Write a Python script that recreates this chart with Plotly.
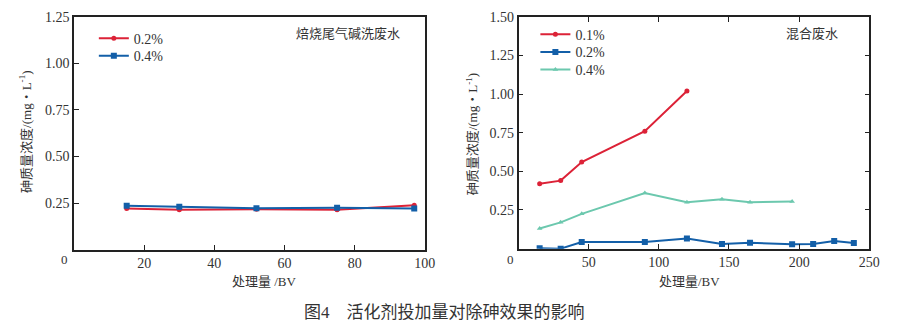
import plotly.graph_objects as go

# Left panel: 焙烧尾气碱洗废水
left_x_02 = [15, 30, 52, 75, 97]
left_y_02 = [0.221, 0.214, 0.217, 0.214, 0.238]
left_x_04 = [15, 30, 52, 75, 97]
left_y_04 = [0.235, 0.230, 0.222, 0.225, 0.221]

# Right panel: 混合废水
right_x_01 = [15, 30, 45, 90, 120]
right_y_01 = [0.42, 0.44, 0.56, 0.76, 1.02]
right_x_02 = [15, 30, 45, 90, 120, 145, 165, 195, 210, 225, 239]
right_y_02 = [0.003, 0.0, 0.043, 0.043, 0.066, 0.030, 0.038, 0.028, 0.030, 0.049, 0.036]
right_x_04 = [15, 30, 45, 90, 120, 145, 165, 195]
right_y_04 = [0.13, 0.17, 0.225, 0.36, 0.30, 0.32, 0.30, 0.305]

left_xticks = [20, 40, 60, 80, 100]
left_yticks = [0.25, 0.50, 0.75, 1.00, 1.25]
right_xticks = [50, 100, 150, 200, 250]
right_yticks = [0.25, 0.50, 0.75, 1.00, 1.25, 1.50]

RED = "#DC2237"
BLUE = "#135FA8"
TEAL = "#6CC8AE"
NUMFONT = "Liberation Serif"
FONT = "Liberation Serif, Noto Sans CJK SC"
W, H = 902, 322

def px(x):
    return x / W

def py(y):
    return 1 - y / H

fig = go.Figure()
fig.add_trace(go.Scatter(x=left_x_02, y=left_y_02, name="0.2%", mode="lines+markers",
                         line=dict(color=RED, width=2), marker=dict(symbol="circle", size=5, color=RED),
                         xaxis="x", yaxis="y", legend="legend"))
fig.add_trace(go.Scatter(x=left_x_04, y=left_y_04, name="0.4%", mode="lines+markers",
                         line=dict(color=BLUE, width=2), marker=dict(symbol="square", size=6, color=BLUE),
                         xaxis="x", yaxis="y", legend="legend2"))
fig.add_trace(go.Scatter(x=right_x_01, y=right_y_01, name="0.1%", mode="lines+markers",
                         line=dict(color=RED, width=2), marker=dict(symbol="circle", size=5, color=RED),
                         xaxis="x2", yaxis="y2", legend="legend3"))
fig.add_trace(go.Scatter(x=right_x_02, y=right_y_02, name="0.2%", mode="lines+markers",
                         line=dict(color=BLUE, width=2), marker=dict(symbol="square", size=6, color=BLUE),
                         xaxis="x2", yaxis="y2", legend="legend4"))
fig.add_trace(go.Scatter(x=right_x_04, y=right_y_04, name="0.4%", mode="lines+markers",
                         line=dict(color=TEAL, width=2), marker=dict(symbol="triangle-up", size=5, color=TEAL),
                         xaxis="x2", yaxis="y2", legend="legend5"))

axis_common = dict(showgrid=False, zeroline=False, showline=True, linecolor="#222", linewidth=1.5,
                   ticks="inside", ticklen=5, tickcolor="#222",
                   tickfont=dict(family=NUMFONT, size=14, color="#333"))

def leg(x, y):
    return dict(x=px(x), y=py(y), xanchor="left", yanchor="top", bgcolor="rgba(0,0,0,0)",
                font=dict(family=NUMFONT, size=14, color="#333"), itemwidth=30)

fig.update_layout(
    width=W, height=H, margin=dict(l=0, r=0, t=0, b=0),
    paper_bgcolor="white", plot_bgcolor="white", showlegend=True,
    font=dict(family=FONT, color="#333"),
    xaxis=dict(domain=[px(75), px(430)], range=[0, 100], tickvals=left_xticks, mirror=True,
               anchor="y", **axis_common),
    yaxis=dict(domain=[py(248), py(10)], range=[0, 1.25], tickvals=left_yticks,
               tickformat=".2f", mirror=True, anchor="x", **axis_common),
    xaxis2=dict(domain=[px(525), px(880)], range=[0, 250], tickvals=right_xticks, mirror="ticks",
                anchor="y2", **axis_common),
    yaxis2=dict(domain=[py(247), py(10)], range=[0, 1.5], tickvals=right_yticks,
                tickformat=".2f", mirror="ticks", anchor="x2", **axis_common),
    legend=leg(95, 16),
    legend2=leg(95, 34),
    legend3=leg(542, 12),
    legend4=leg(542, 30),
    legend5=leg(542, 48),
)

ann = [
    dict(text="焙烧尾气碱洗废水", x=px(352), y=py(27)),
    dict(text="混合废水", x=px(822), y=py(27)),
    dict(text="0", x=px(65), y=py(258)),
    dict(text="0", x=px(517), y=py(258)),
    dict(text="处理量 /BV", x=px(268), y=py(281)),
    dict(text="处理量/BV", x=px(698), y=py(281)),
    dict(text="砷质量浓度/(mg・L<sup>-1</sup>)", x=px(26), y=py(128), textangle=-90),
    dict(text="砷质量浓度/(mg・L<sup>-1</sup>)", x=px(478), y=py(130), textangle=-90),
]
for a in ann:
    fig.add_annotation(xref="paper", yref="paper", showarrow=False, xanchor="center", yanchor="middle",
                       font=dict(family=FONT, size=13, color="#333"), **a)
fig.add_annotation(xref="paper", yref="paper", showarrow=False, xanchor="center", yanchor="middle",
                   text="图4    活化剂投加量对除砷效果的影响", x=px(450), y=py(312),
                   font=dict(family=FONT, size=17, color="#333"))

fig.write_html("out.html")
